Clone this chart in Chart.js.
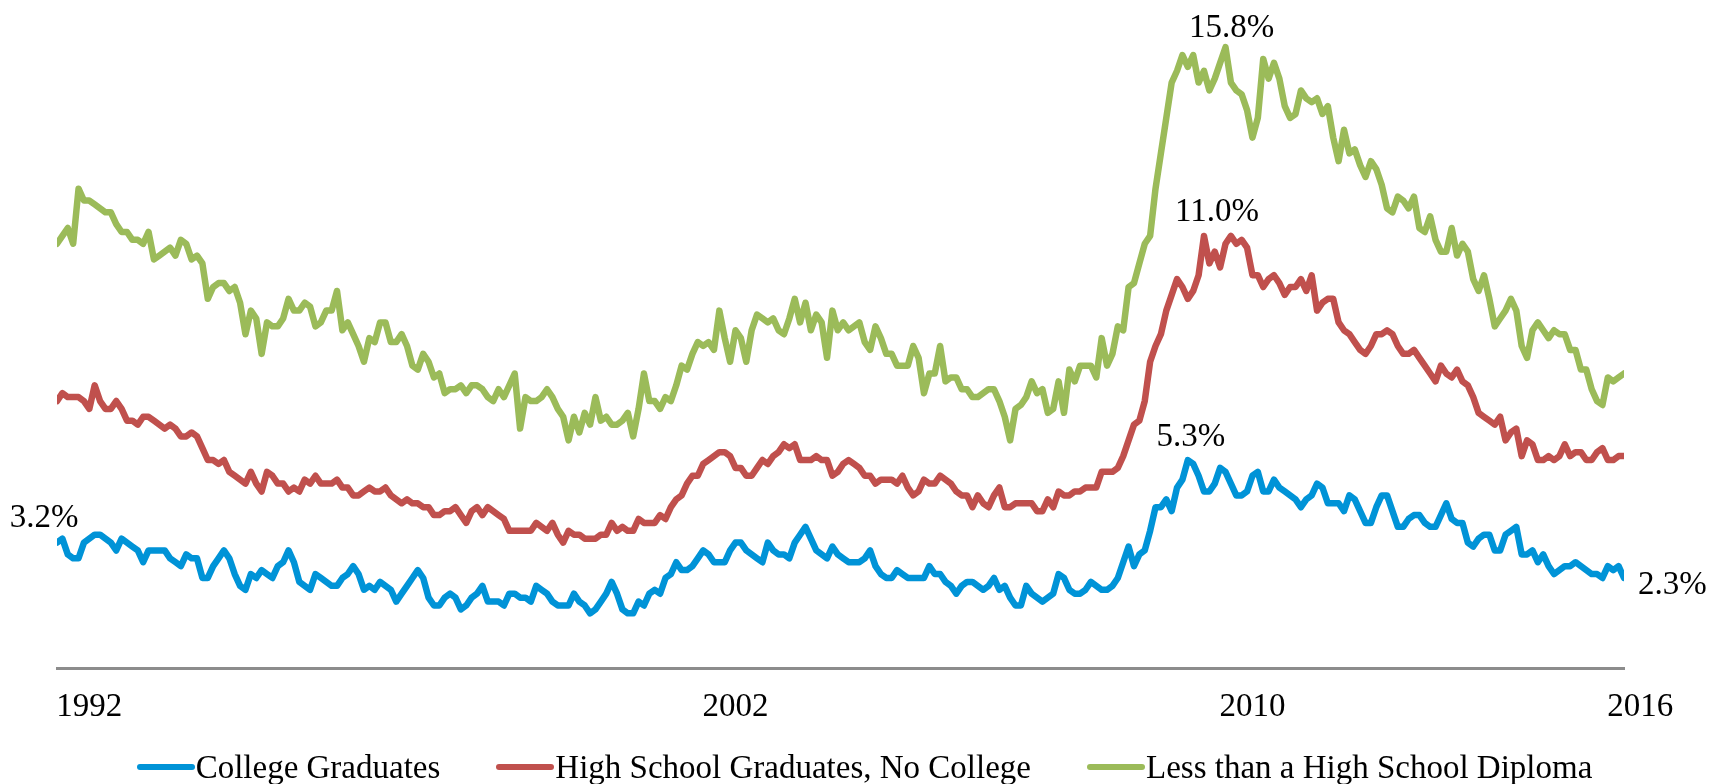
<!DOCTYPE html>
<html>
<head>
<meta charset="utf-8">
<title>Unemployment rate by education, 1992-2016</title>
<script src="https://cdn.jsdelivr.net/npm/chart.js@4.4.1/dist/chart.umd.min.js"></script>
<style>
  body { margin: 0; background: #ffffff; }
  #wrap { position: relative; width: 1729px; height: 784px; }
  #legend {
    position: absolute; left: 0; top: 748px; width: 1729px;
    display: flex; justify-content: center; align-items: center; gap: 56px;
    font-family: "Liberation Serif", "DejaVu Serif", serif; font-size: 33px;
    line-height: 38px; color: #000;
  }
  .legend-item { display: flex; align-items: center; white-space: nowrap; }
  .swatch { width: 58px; height: 6px; border-radius: 3px; margin-right: 1px; }
</style>
</head>
<body>
<div id="wrap">
  <canvas id="unempChart" width="1729" height="784"></canvas>
  <div id="legend"></div>
</div>

<script>
// ---- Data (monthly, starting Jan 1992), values in percent ----
const startYear = 1992;

const seriesNames = ["College Graduates", "High School Graduates, No College", "Less than a High School Diploma"];
const seriesColors = ["#0093d7", "#c0504d", "#9bbb59"];

const collegeGrads = [
  3.2, 3.3, 2.9, 2.8, 2.8, 3.2, 3.3, 3.4, 3.4, 3.3, 3.2, 3.0,
  3.3, 3.2, 3.1, 3.0, 2.7, 3.0, 3.0, 3.0, 3.0, 2.8, 2.7, 2.6,
  2.9, 2.8, 2.8, 2.3, 2.3, 2.6, 2.8, 3.0, 2.8, 2.4, 2.1, 2.0,
  2.4, 2.3, 2.5, 2.4, 2.3, 2.6, 2.7, 3.0, 2.7, 2.2, 2.1, 2.0,
  2.4, 2.3, 2.2, 2.1, 2.1, 2.3, 2.4, 2.6, 2.4, 2.0, 2.1, 2.0,
  2.2, 2.1, 2.0, 1.7, 1.9, 2.1, 2.3, 2.5, 2.3, 1.8, 1.6, 1.6,
  1.8, 1.9, 1.8, 1.5, 1.6, 1.8, 1.9, 2.1, 1.7, 1.7, 1.7, 1.6,
  1.9, 1.9, 1.8, 1.8, 1.7, 2.1, 2.0, 1.9, 1.7, 1.6, 1.6, 1.6,
  1.9, 1.7, 1.6, 1.4, 1.5, 1.7, 1.9, 2.2, 1.9, 1.5, 1.4, 1.4,
  1.7, 1.6, 1.9, 2.0, 1.9, 2.3, 2.4, 2.7, 2.5, 2.5, 2.6, 2.8,
  3.0, 2.9, 2.7, 2.7, 2.7, 3.0, 3.2, 3.2, 3.0, 2.9, 2.8, 2.7,
  3.2, 3.0, 2.9, 2.9, 2.8, 3.2, 3.4, 3.6, 3.3, 3.0, 2.9, 2.8,
  3.1, 2.9, 2.8, 2.7, 2.7, 2.7, 2.8, 3.0, 2.6, 2.4, 2.3, 2.3,
  2.5, 2.4, 2.3, 2.3, 2.3, 2.3, 2.6, 2.4, 2.4, 2.2, 2.1, 1.9,
  2.1, 2.2, 2.2, 2.1, 2.0, 2.1, 2.3, 2.0, 2.1, 1.8, 1.6, 1.6,
  2.1, 1.9, 1.8, 1.7, 1.8, 1.9, 2.4, 2.3, 2.0, 1.9, 1.9, 2.0,
  2.2, 2.1, 2.0, 2.0, 2.1, 2.3, 2.7, 3.1, 2.6, 2.9, 3.0, 3.5,
  4.1, 4.1, 4.3, 4.0, 4.6, 4.8, 5.3, 5.2, 4.9, 4.5, 4.5, 4.7,
  5.1, 5.0, 4.7, 4.4, 4.4, 4.5, 4.9, 5.0, 4.5, 4.5, 4.8, 4.6,
  4.5, 4.4, 4.3, 4.1, 4.3, 4.4, 4.7, 4.6, 4.2, 4.2, 4.2, 4.0,
  4.4, 4.3, 4.0, 3.7, 3.7, 4.1, 4.4, 4.4, 4.0, 3.6, 3.6, 3.8,
  3.9, 3.9, 3.7, 3.6, 3.6, 3.9, 4.2, 3.8, 3.7, 3.7, 3.2, 3.1,
  3.3, 3.4, 3.4, 3.0, 3.0, 3.4, 3.5, 3.6, 2.9, 2.9, 3.0, 2.7,
  2.9, 2.6, 2.4, 2.5, 2.6, 2.6, 2.7, 2.6, 2.5, 2.4, 2.4, 2.3,
  2.6, 2.5, 2.6, 2.3
];

const highSchoolGrads = [
  6.8, 7.0, 6.9, 6.9, 6.9, 6.8, 6.6, 7.2, 6.8, 6.6, 6.6, 6.8,
  6.6, 6.3, 6.3, 6.2, 6.4, 6.4, 6.3, 6.2, 6.1, 6.2, 6.1, 5.9,
  5.9, 6.0, 5.9, 5.6, 5.3, 5.3, 5.2, 5.3, 5.0, 4.9, 4.8, 4.7,
  5.0, 4.7, 4.5, 5.0, 4.9, 4.7, 4.7, 4.5, 4.6, 4.5, 4.8, 4.7,
  4.9, 4.7, 4.7, 4.7, 4.8, 4.6, 4.6, 4.4, 4.4, 4.5, 4.6, 4.5,
  4.5, 4.6, 4.4, 4.3, 4.2, 4.3, 4.2, 4.2, 4.1, 4.1, 3.9, 3.9,
  4.0, 4.0, 4.1, 3.9, 3.7, 4.0, 4.1, 3.9, 4.1, 4.0, 3.9, 3.8,
  3.5, 3.5, 3.5, 3.5, 3.5, 3.7, 3.6, 3.5, 3.7, 3.4, 3.2, 3.5,
  3.4, 3.4, 3.3, 3.3, 3.3, 3.4, 3.4, 3.7, 3.5, 3.6, 3.5, 3.5,
  3.8, 3.7, 3.7, 3.7, 3.9, 3.8, 4.1, 4.3, 4.4, 4.7, 4.9, 4.9,
  5.2, 5.3, 5.4, 5.5, 5.5, 5.4, 5.1, 5.1, 4.9, 4.9, 5.1, 5.3,
  5.2, 5.4, 5.5, 5.7, 5.6, 5.7, 5.3, 5.3, 5.3, 5.4, 5.3, 5.3,
  4.9, 5.0, 5.2, 5.3, 5.2, 5.1, 4.9, 4.9, 4.7, 4.8, 4.8, 4.8,
  4.7, 4.9, 4.6, 4.4, 4.5, 4.8, 4.7, 4.7, 4.9, 4.8, 4.7, 4.5,
  4.4, 4.4, 4.1, 4.4, 4.2, 4.1, 4.4, 4.6, 4.1, 4.1, 4.2, 4.2,
  4.2, 4.2, 4.0, 4.0, 4.3, 4.1, 4.5, 4.4, 4.4, 4.5, 4.5, 4.6,
  4.6, 4.6, 5.0, 5.0, 5.0, 5.1, 5.4, 5.8, 6.2, 6.3, 6.8, 7.8,
  8.2, 8.5, 9.1, 9.5, 9.9, 9.7, 9.4, 9.6, 10.0, 11.0, 10.3, 10.6,
  10.2, 10.8, 11.0, 10.8, 10.9, 10.7, 10.0, 10.0, 9.7, 9.9, 10.0, 9.8,
  9.5, 9.7, 9.7, 9.9, 9.6, 10.0, 9.1, 9.3, 9.4, 9.4, 8.8, 8.6,
  8.5, 8.3, 8.1, 8.0, 8.2, 8.5, 8.5, 8.6, 8.5, 8.2, 8.0, 8.0,
  8.1, 7.9, 7.7, 7.5, 7.3, 7.7, 7.5, 7.4, 7.6, 7.3, 7.2, 6.9,
  6.5, 6.4, 6.3, 6.2, 6.4, 5.8, 6.0, 6.1, 5.4, 5.8, 5.7, 5.3,
  5.3, 5.4, 5.3, 5.4, 5.7, 5.4, 5.5, 5.5, 5.3, 5.3, 5.5, 5.6,
  5.3, 5.3, 5.4, 5.4
];

const lessThanHighSchool = [
  10.8, 11.0, 11.2, 10.8, 12.2, 11.9, 11.9, 11.8, 11.7, 11.6, 11.6, 11.3,
  11.1, 11.1, 10.9, 10.9, 10.8, 11.1, 10.4, 10.5, 10.6, 10.7, 10.5, 10.9,
  10.8, 10.4, 10.5, 10.3, 9.4, 9.7, 9.8, 9.8, 9.6, 9.7, 9.3, 8.5,
  9.1, 8.9, 8.0, 8.8, 8.7, 8.7, 8.9, 9.4, 9.1, 9.1, 9.3, 9.2,
  8.7, 8.8, 9.1, 9.1, 9.6, 8.6, 8.8, 8.5, 8.2, 7.8, 8.4, 8.3,
  8.8, 8.8, 8.3, 8.3, 8.5, 8.2, 7.7, 7.6, 8.0, 7.8, 7.4, 7.5,
  7.0, 7.1, 7.1, 7.2, 7.0, 7.2, 7.2, 7.1, 6.9, 6.8, 7.1, 6.9,
  7.2, 7.5, 6.1, 6.9, 6.8, 6.8, 6.9, 7.1, 6.9, 6.6, 6.4, 5.8,
  6.4, 6.0, 6.5, 6.2, 6.9, 6.3, 6.4, 6.2, 6.2, 6.3, 6.5, 5.9,
  6.6, 7.5, 6.8, 6.8, 6.6, 6.9, 6.8, 7.2, 7.7, 7.6, 8.0, 8.3,
  8.2, 8.3, 8.1, 9.1, 8.4, 7.8, 8.6, 8.4, 7.8, 8.6, 9.0, 8.9,
  8.8, 8.9, 8.6, 8.5, 8.9, 9.4, 8.8, 9.3, 8.6, 9.0, 8.8, 7.9,
  9.1, 8.6, 8.8, 8.6, 8.7, 8.8, 8.3, 8.1, 8.7, 8.4, 8.0, 8.0,
  7.7, 7.7, 7.7, 8.2, 7.9, 7.0, 7.5, 7.5, 8.2, 7.3, 7.4, 7.4,
  7.1, 7.1, 6.9, 6.9, 7.0, 7.1, 7.1, 6.8, 6.4, 5.8, 6.6, 6.7,
  6.9, 7.3, 7.0, 7.1, 6.5, 6.6, 7.3, 6.5, 7.6, 7.3, 7.7, 7.7,
  7.7, 7.4, 8.4, 7.7, 8.0, 8.7, 8.6, 9.7, 9.8, 10.3, 10.8, 11.0,
  12.2, 13.1, 14.0, 14.9, 15.2, 15.6, 15.3, 15.6, 14.9, 15.2, 14.7, 15.0,
  15.4, 15.8, 14.9, 14.7, 14.6, 14.2, 13.5, 14.0, 15.5, 15.0, 15.4, 15.0,
  14.3, 14.0, 14.1, 14.7, 14.5, 14.4, 14.5, 14.1, 14.3, 13.5, 12.9, 13.7,
  13.1, 13.2, 12.8, 12.5, 12.9, 12.7, 12.3, 11.7, 11.6, 12.0, 11.9, 11.7,
  12.0, 11.2, 11.1, 11.5, 10.9, 10.6, 10.6, 11.2, 10.5, 10.8, 10.6, 9.9,
  9.6, 10.0, 9.4, 8.7, 8.9, 9.1, 9.4, 9.1, 8.2, 7.9, 8.6, 8.8,
  8.6, 8.4, 8.6, 8.5, 8.5, 8.1, 8.1, 7.6, 7.6, 7.1, 6.8, 6.7,
  7.4, 7.3, 7.4, 7.5
];

// Axis labels, each placed at mid-year of that year
const tickYears = ["1992", "2002", "2010", "2016"];

// Value callouts: which series / which month gets a label
const callouts = [
  { series: 0, index: 0 },
  { series: 0, index: 210 },
  { series: 0, index: 291 },
  { series: 1, index: 213 },
  { series: 2, index: 217 }
];


// ---- Helpers ----
const allSeries = [collegeGrads, highSchoolGrads, lessThanHighSchool];
const serifFont = '"Liberation Serif", "DejaVu Serif", serif';

function monthIndexForYear(yearStr) {
  // centre of the year (July)
  return (parseInt(yearStr, 10) - startYear) * 12 + 6;
}

function toPoints(values) {
  return values.map((v, i) => ({ x: i, y: v }));
}

// offsets of each callout text relative to its point (px)
const calloutOffsets = [
  { dx: -13, dy: -16, align: 'center' },
  { dx: 3, dy: -14, align: 'center' },
  { dx: 14, dy: 16, align: 'left' },
  { dx: 13, dy: -15, align: 'center' },
  { dx: 6, dy: -10, align: 'center' }
];

const calloutPlugin = {
  id: 'callouts',
  afterDatasetsDraw(chart) {
    const { ctx, scales } = chart;
    ctx.save();
    ctx.font = '33px ' + serifFont;
    ctx.fillStyle = '#000';
    ctx.textBaseline = 'alphabetic';
    callouts.forEach((c, k) => {
      const value = allSeries[c.series][c.index];
      const off = calloutOffsets[k];
      const px = scales.x.getPixelForValue(c.index);
      const py = scales.y.getPixelForValue(value);
      ctx.textAlign = off.align;
      ctx.fillText(value.toFixed(1) + '%', px + off.dx, py + off.dy);
    });
    ctx.restore();
  }
};


// ---- Chart ----
const tickPositions = tickYears.map(monthIndexForYear);

const chart = new Chart(document.getElementById('unempChart').getContext('2d'), {
  type: 'line',
  data: {
    datasets: allSeries.map((values, i) => ({
      label: seriesNames[i],
      data: toPoints(values),
      borderColor: seriesColors[i],
      backgroundColor: seriesColors[i],
      borderWidth: 6.5,
      borderJoinStyle: 'round',
      borderCapStyle: 'round',
      pointRadius: 0,
      tension: 0,
      fill: false
    }))
  },
  options: {
    responsive: false,
    animation: false,
    layout: { padding: { left: 57, right: 105, top: 0, bottom: 38 } },
    plugins: {
      legend: { display: false },
      tooltip: { enabled: false }
    },
    scales: {
      x: {
        type: 'linear',
        min: 0,
        max: collegeGrads.length - 1,
        grid: { display: false, drawTicks: false },
        border: { display: true, color: '#8c8c8c', width: 3 },
        afterBuildTicks: (scale) => {
          scale.ticks = tickPositions.map(v => ({ value: v }));
        },
        ticks: {
          autoSkip: false,
          maxRotation: 0,
          padding: 19,
          color: '#000',
          font: { family: serifFont, size: 33 },
          callback: (value) => {
            const k = tickPositions.indexOf(value);
            return k >= 0 ? tickYears[k] : '';
          }
        }
      },
      y: {
        display: false,
        min: 0,
        max: 17
      }
    }
  },
  plugins: [calloutPlugin]
});

// ---- Legend (html, below the axis labels) ----
const legendBox = document.getElementById('legend');
seriesNames.forEach((name, i) => {
  const item = document.createElement('div');
  item.className = 'legend-item';
  item.innerHTML = `<span class="swatch" style="background:${seriesColors[i]}"></span><span>${name}</span>`;
  legendBox.appendChild(item);
});
</script>
</body>
</html>
